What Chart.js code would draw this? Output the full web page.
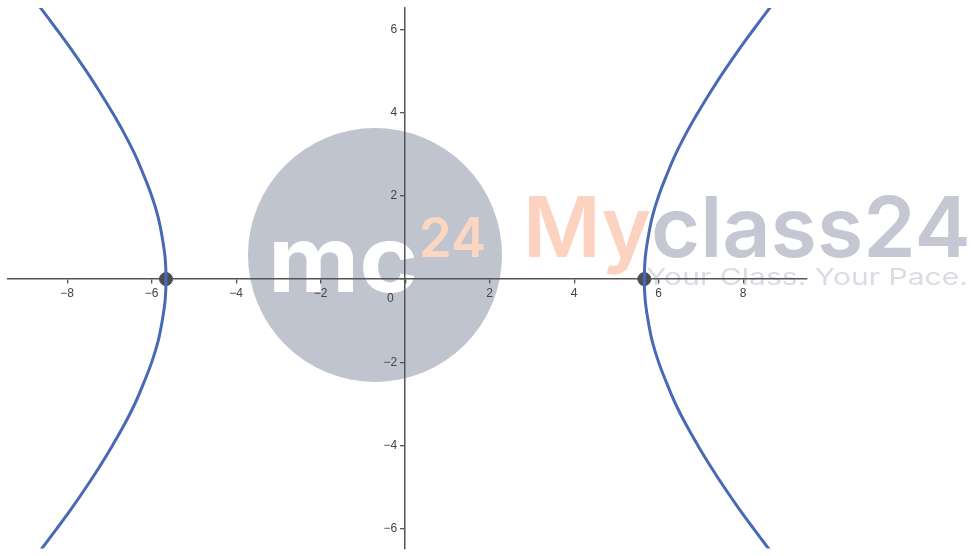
<!DOCTYPE html>
<html>
<head>
<meta charset="utf-8">
<script src="https://cdn.jsdelivr.net/npm/chart.js@4"></script>
<style>
  body { margin: 0; background: #fff; }
  #wrap { width: 972px; height: 556px; position: relative; }
</style>
</head>
<body>
<div id="wrap"><canvas id="hyperbola"></canvas></div>
<script>
// points (y, then x of each branch)
const branchY = [-6.8, -6.5, -6, -5.5, -5, -4.5, -4, -3.5, -3, -2.5, -2, -1.5, -1, -0.5, 0,
                 0.5, 1, 1.5, 2, 2.5, 3, 3.5, 4, 4.5, 5, 5.5, 6, 6.5, 6.8];
const rightX = [8.85, 8.62, 8.25, 7.89, 7.55, 7.23, 6.93, 6.65, 6.4, 6.19, 6, 5.85, 5.75, 5.68, 5.66,
                5.68, 5.75, 5.85, 6, 6.19, 6.4, 6.65, 6.93, 7.23, 7.55, 7.89, 8.25, 8.62, 8.85];
const leftX = [-8.85, -8.62, -8.25, -7.89, -7.55, -7.23, -6.93, -6.65, -6.4, -6.19, -6, -5.85, -5.75, -5.68, -5.66,
               -5.68, -5.75, -5.85, -6, -6.19, -6.4, -6.65, -6.93, -7.23, -7.55, -7.89, -8.25, -8.62, -8.85];
const vertexX = [-5.66, 5.66];
const vertexY = [0, 0];
const tickStep = 2;

const toPoints = (xs, ys) => xs.map((x, i) => ({ x: x, y: ys[i] }));
const minus = (v) => (v < 0 ? "\u2212" + Math.abs(v) : String(v));
const labelFont = "12px 'Liberation Sans'";
const labelColor = "#444";

function fitText(c, txt, x, y, w) {
  const s = w / c.measureText(txt).width;
  c.save();
  c.translate(x, y);
  c.scale(s, 1);
  c.fillText(txt, 0, 0);
  c.restore();
}

// watermark behind the plot
const watermark = {
  id: "watermark",
  beforeDraw(chart) {
    const c = chart.ctx;
    c.save();
    c.fillStyle = "rgb(192,196,207)";
    c.beginPath();
    c.arc(375, 255, 127, 0, Math.PI * 2);
    c.fill();

    c.textBaseline = "alphabetic";
    c.textAlign = "left";
    c.fillStyle = "#ffffff";
    c.font = "bold 92px Inter";
    fitText(c, "mc", 268, 292, 150);
    c.fillStyle = "rgb(251,214,192)";
    c.font = "600 55px Inter";
    fitText(c, "24", 419, 257, 67);

    // Myclass24
    c.font = "600 84px Inter";
    const wMy = c.measureText("My").width;
    const wAll = c.measureText("Myclass24").width;
    const sx = 446 / wAll;
    c.save();
    c.translate(523, 257);
    c.scale(sx, 1);
    c.fillStyle = "rgb(252,210,192)";
    c.fillText("My", 0, 0);
    c.fillStyle = "rgb(197,200,210)";
    c.fillText("class24", wMy, 0);
    c.restore();

    c.fillStyle = "rgb(218,220,227)";
    c.font = "23px Inter";
    fitText(c, "Your Class. Your Pace.", 646, 285, 322);

    // the single origin label
    c.fillStyle = labelColor;
    c.font = labelFont;
    c.fillText("0", 387, 302);
    c.restore();
  },
  // y labels sit left of the centred axis
  afterDraw(chart) {
    const c = chart.ctx;
    const ys = chart.scales.y;
    const x0 = chart.scales.x.getPixelForValue(0);
    c.save();
    c.fillStyle = labelColor;
    c.font = labelFont;
    c.textAlign = "right";
    c.textBaseline = "middle";
    ys.ticks.forEach((t) => {
      if (t.value === 0) return;
      c.fillText(minus(t.value), x0 - 8, ys.getPixelForValue(t.value));
    });
    c.restore();
  }
};

const axisStyle = {
  grid: { drawOnChartArea: false, drawTicks: true, tickLength: 4, color: "#555", lineWidth: 1.3 },
  border: { display: true, color: "#555", width: 1.5 },
};

const config = {
  type: "scatter",
  data: {
    datasets: [
      {
        label: "left branch",
        data: toPoints(leftX, branchY),
        showLine: true,
        borderColor: "#4869b5",
        borderWidth: 3,
        pointRadius: 0,
        tension: 0.4,
      },
      {
        label: "right branch",
        data: toPoints(rightX, branchY),
        showLine: true,
        borderColor: "#4869b5",
        borderWidth: 3,
        pointRadius: 0,
        tension: 0.4,
      },
      {
        label: "vertices",
        data: toPoints(vertexX, vertexY),
        pointRadius: 6.5,
        pointBackgroundColor: "#4b4c55",
        pointBorderColor: "#4b4c55",
        pointBorderWidth: 1,
      },
    ],
  },
  options: {
    responsive: true,
    maintainAspectRatio: false,
    animation: false,
    layout: { padding: { left: 8, right: 165, top: 8, bottom: 0 } },
    plugins: {
      legend: { display: false },
      tooltip: { enabled: false },
    },
    scales: {
      x: {
        type: "linear",
        position: { y: 0 },
        min: -9.4,
        max: 9.51,
        afterFit: (s) => { s.height = 0; },
        ticks: {
          stepSize: tickStep,
          includeBounds: false,
          padding: 3,
          color: labelColor,
          font: { family: "Liberation Sans", size: 12 },
          callback: (v) => (v === 0 ? "" : minus(v)),
        },
        ...axisStyle,
      },
      y: {
        type: "linear",
        position: { x: 0 },
        min: -6.47,
        max: 6.51,
        afterFit: (s) => { s.width = 0; },
        ticks: {
          stepSize: tickStep,
          includeBounds: false,
          display: false,
        },
        ...axisStyle,
      },
    },
  },
  plugins: [watermark],
};

const ctx = document.getElementById("hyperbola").getContext("2d");
const hyperbolaChart = new Chart(ctx, config);
</script>
</body>
</html>
